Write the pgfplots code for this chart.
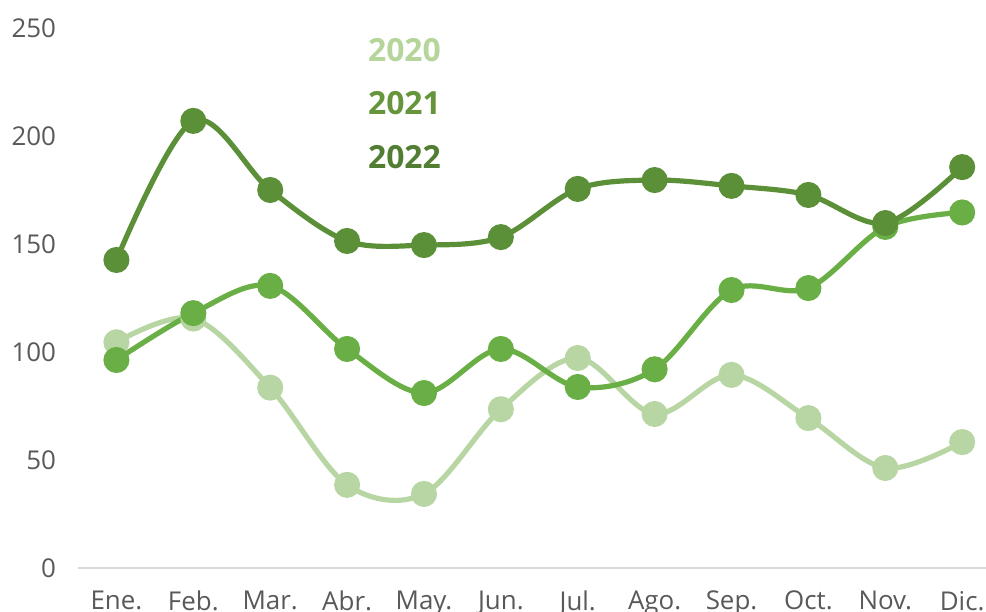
\documentclass[border=0pt]{standalone}
\usepackage{pgfplots}
\pgfplotsset{compat=1.18}
\usepackage{fontspec}
\setmainfont{Open Sans}
\usetikzlibrary{calc}
\definecolor{c2020}{HTML}{B7D6A3}
\definecolor{c2021}{HTML}{6AAE46}
\definecolor{c2022}{HTML}{5B9038}
\definecolor{t2020}{HTML}{B5D59B}
\definecolor{t2021}{HTML}{66963C}
\definecolor{t2022}{HTML}{527E33}
\definecolor{tick}{HTML}{595959}
\begin{document}
\begin{tikzpicture}
\begin{axis}[
  name=ax,
  scale only axis,
  width=454bp, height=270bp,
  xmin=-0.5, xmax=11.31,
  ymin=0, ymax=250,
  xtick={0,...,11},
  xticklabels={Ene.,Feb.,Mar.,Abr.,May.,Jun.,Jul.,Ago.,Sep.,Oct.,Nov.,Dic.},
  ytick={0,50,100,150,200,250},
  axis y line*=left,
  axis x line*=bottom,
  y axis line style={draw=none},
  x axis line style={draw=black!15, line width=1bp, -},
  major tick length=0pt,
  tick style={draw=none},
  /pgf/number format/assume math mode=true,
  ticklabel style={font=\fontsize{13}{13}\selectfont, text=tick},
  yticklabel style={xshift=-7.5bp, anchor=east},
  xticklabel style={yshift=-8bp, anchor=north},
  clip=false,
]
\addplot[c2020, line width=2.6bp, smooth, tension=0.55, mark=*, mark size=5.2bp, mark options={fill=c2020, draw=c2020}] coordinates {
(0,104.5) (1,115.5) (2,83.5) (3,38.5) (4,34.3) (5,73.5) (6,97.2) (7,71.3) (8,89.4) (9,69.4) (10,46.3) (11,58.3)};
\addplot[c2021, line width=2.6bp, smooth, tension=0.55, mark=*, mark size=5.2bp, mark options={fill=c2021, draw=c2021}] coordinates {
(0,96.3) (1,118) (2,130.6) (3,101.4) (4,81) (5,101.4) (6,83.8) (7,92) (8,128.7) (9,129.6) (10,157.9) (11,164.6)};
\addplot[c2022, line width=2.6bp, smooth, tension=0.55, mark=*, mark size=5.2bp, mark options={fill=c2022, draw=c2022}] coordinates {
(0,142.6) (1,207) (2,175) (3,151.4) (4,149.5) (5,153.2) (6,175.5) (7,179.6) (8,176.9) (9,172.7) (10,159.7) (11,185.6)};
\node[anchor=west, inner sep=0pt, text=t2020, font=\bfseries\fontsize{16}{16}\selectfont] at (rel axis cs:0.319,0.959) {2020};
\node[anchor=west, inner sep=0pt, text=t2021, font=\bfseries\fontsize{16}{16}\selectfont] at (rel axis cs:0.319,0.861) {2021};
\node[anchor=west, inner sep=0pt, text=t2022, font=\bfseries\fontsize{16}{16}\selectfont] at (rel axis cs:0.319,0.761) {2022};
\end{axis}
\pgfresetboundingbox
\path ($(ax.south west)+(-39bp,-22bp)$) rectangle ($(ax.north east)+(0,14bp)$);
\end{tikzpicture}
\end{document}
